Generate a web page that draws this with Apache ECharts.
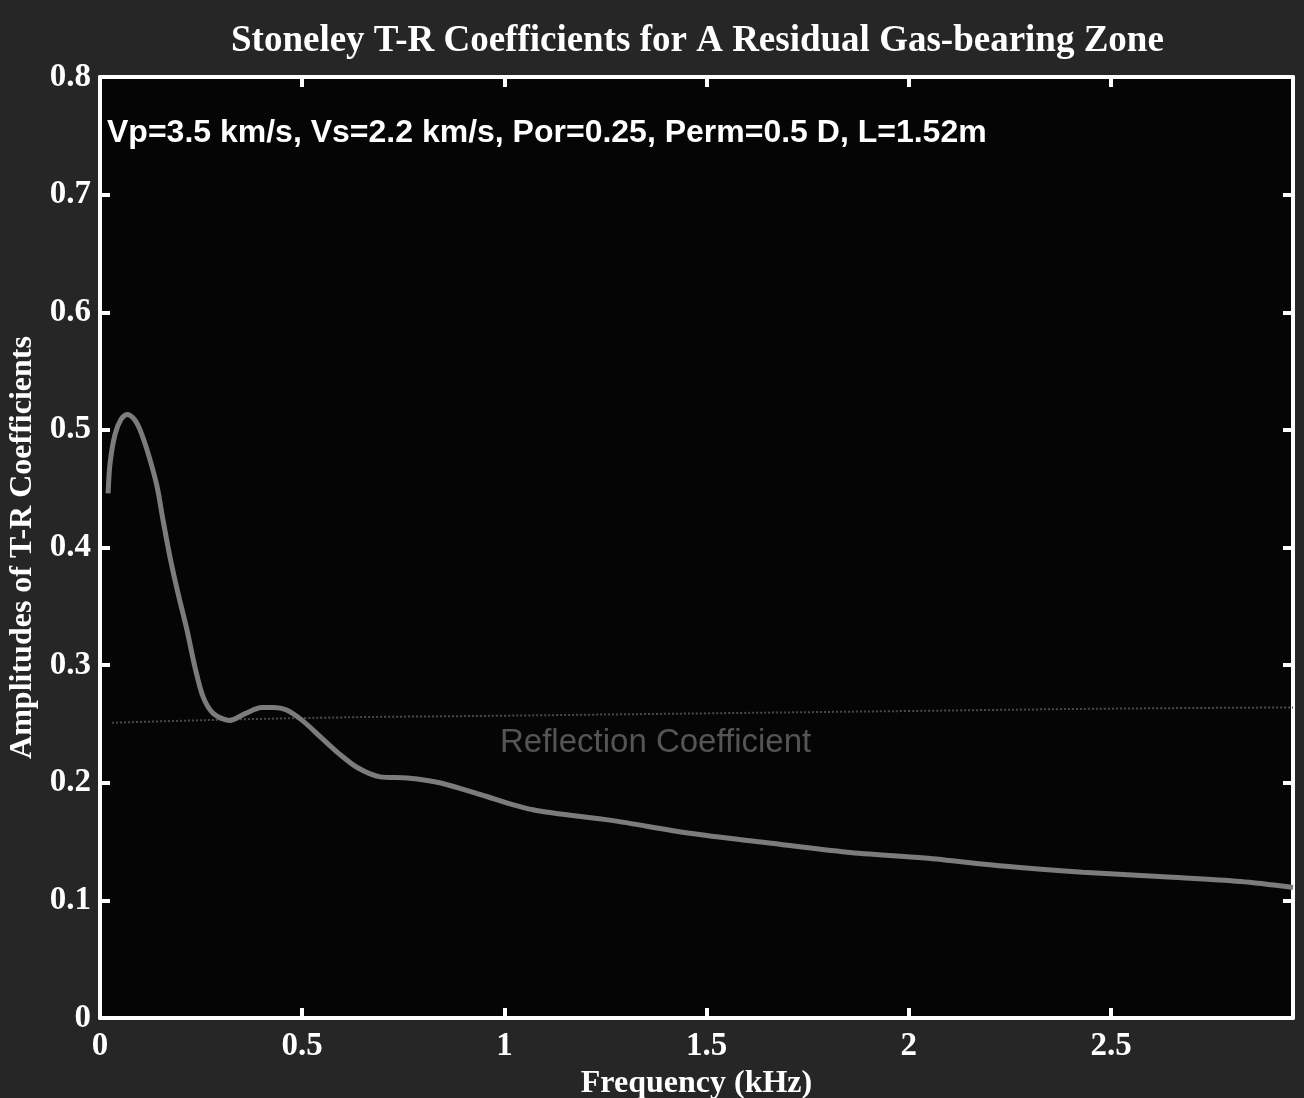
<!DOCTYPE html>
<html>
<head>
<meta charset="utf-8">
<title>Stoneley T-R Coefficients</title>
<script src="https://cdn.jsdelivr.net/npm/echarts@6/dist/echarts.min.js"></script>
<style>
    html, body { margin: 0; padding: 0; background: #262626; }
    #chart { width: 1304px; height: 1098px; }
</style>
</head>
<body>
<div id="chart"></div>
<script>
// T-R 系数曲线 (频率 kHz, 幅值)
let freq = [0.02, 0.025, 0.037, 0.052, 0.067, 0.085, 0.099, 0.119, 0.141, 0.156, 0.173, 0.193, 0.215, 0.235, 0.255, 0.28, 0.32, 0.36, 0.40, 0.43, 0.46, 0.50, 0.545, 0.59, 0.636, 0.693, 0.76, 0.84, 0.94, 1.07, 1.265, 1.458, 1.65, 1.847, 2.04, 2.24, 2.43, 2.63, 2.82, 2.95]
let amp = [0.446, 0.472, 0.496, 0.509, 0.513, 0.509, 0.500, 0.480, 0.452, 0.423, 0.392, 0.361, 0.330, 0.298, 0.273, 0.259, 0.253, 0.259, 0.264, 0.264, 0.262, 0.253, 0.239, 0.225, 0.213, 0.205, 0.204, 0.200, 0.190, 0.177, 0.168, 0.157, 0.149, 0.141, 0.136, 0.129, 0.124, 0.120, 0.116, 0.111]

// 反射系数 (虚线, 很淡)
let reflFreq = [0.03, 0.5, 1.0, 1.5, 2.0, 2.5, 2.95]
let reflAmp = [0.251, 0.255, 0.257, 0.259, 0.261, 0.263, 0.264]

let xTicks = ['0', '0.5', '1', '1.5', '2', '2.5']
let yTicks = ['0', '0.1', '0.2', '0.3', '0.4', '0.5', '0.6', '0.7', '0.8']

let titleText = 'Stoneley T-R Coefficients for A Residual Gas-bearing Zone'
let noteText = 'Vp=3.5 km/s, Vs=2.2 km/s, Por=0.25, Perm=0.5 D, L=1.52m'
let reflText = 'Reflection Coefficient'

let serif = '"Liberation Serif", "Times New Roman", serif'
let sans = '"Liberation Sans", Arial, sans-serif'

let chart = echarts.init(document.getElementById('chart'));

let curve = []
for (let i = 0, len = freq.length; i < len; i++) {
    curve.push([freq[i], amp[i]])
}
let refl = []
for (let i = 0, len = reflFreq.length; i < len; i++) {
    refl.push([reflFreq[i], reflAmp[i]])
}

let axisLine = { show: true, onZero: false, lineStyle: { color: '#fff', width: 4 } }
let tick = { show: true, inside: true, length: 10, lineStyle: { color: '#fff', width: 4 } }

let option = {
    backgroundColor: '#262626',
    animation: false,
    title: {
        text: titleText,
        left: 226,
        top: 18,
        textStyle: { fontFamily: serif, fontWeight: 'bold', fontSize: 37, color: '#fff' }
    },
    grid: {
        left: 100, right: 11, top: 77, bottom: 80,
        outerBoundsMode: 'none',
        show: true, backgroundColor: '#050505', borderWidth: 0
    },
    xAxis: [
        {
            type: 'value', min: 0, max: 2.95, interval: 0.5,
            name: 'Frequency (kHz)', nameLocation: 'middle', nameGap: 50,
            nameTextStyle: { fontFamily: serif, fontWeight: 'bold', fontSize: 32, color: '#fff' },
            axisLine: axisLine, axisTick: tick,
            axisLabel: {
                margin: 12, fontFamily: serif, fontWeight: 'bold', fontSize: 33, color: '#fff',
                showMaxLabel: false,
                formatter: function (v) { return xTicks[Math.round(v / 0.5)] }
            },
            splitLine: { show: false }
        },
        {
            type: 'value', position: 'top', min: 0, max: 2.95, interval: 0.5,
            axisLine: axisLine, axisTick: tick, axisLabel: { show: false }, splitLine: { show: false }
        }
    ],
    yAxis: [
        {
            type: 'value', min: 0, max: 0.8, interval: 0.1,
            name: 'Amplitudes of T-R Coefficients', nameLocation: 'middle', nameGap: 53,
            nameTextStyle: { fontFamily: serif, fontWeight: 'bold', fontSize: 32, color: '#fff' },
            axisLine: axisLine, axisTick: tick,
            axisLabel: {
                margin: 9, fontFamily: serif, fontWeight: 'bold', fontSize: 33, color: '#fff',
                formatter: function (v) { return yTicks[Math.round(v * 10)] }
            },
            splitLine: { show: false }
        },
        {
            type: 'value', position: 'right', min: 0, max: 0.8, interval: 0.1,
            axisLine: axisLine, axisTick: tick, axisLabel: { show: false }, splitLine: { show: false }
        }
    ],
    graphic: [
        {
            type: 'text', left: 107, top: 117,
            style: { text: noteText, fill: '#fff', font: 'bold 32px ' + sans }
        },
        {
            type: 'text', left: 500, top: 726,
            style: { text: reflText, fill: '#555', font: '33px ' + sans }
        }
    ],
    series: [
        {
            name: 'Reflection',
            type: 'line',
            data: refl,
            showSymbol: false,
            smooth: true,
            lineStyle: { color: '#4a4a4a', width: 2, type: 'dotted' },
            z: 2
        },
        {
            name: 'T-R',
            type: 'line',
            data: curve,
            showSymbol: false,
            smooth: 0.3,
            lineStyle: { color: '#7c7c7c', width: 5 },
            z: 3
        }
    ]
};
chart.setOption(option);
</script>
</body>
</html>
